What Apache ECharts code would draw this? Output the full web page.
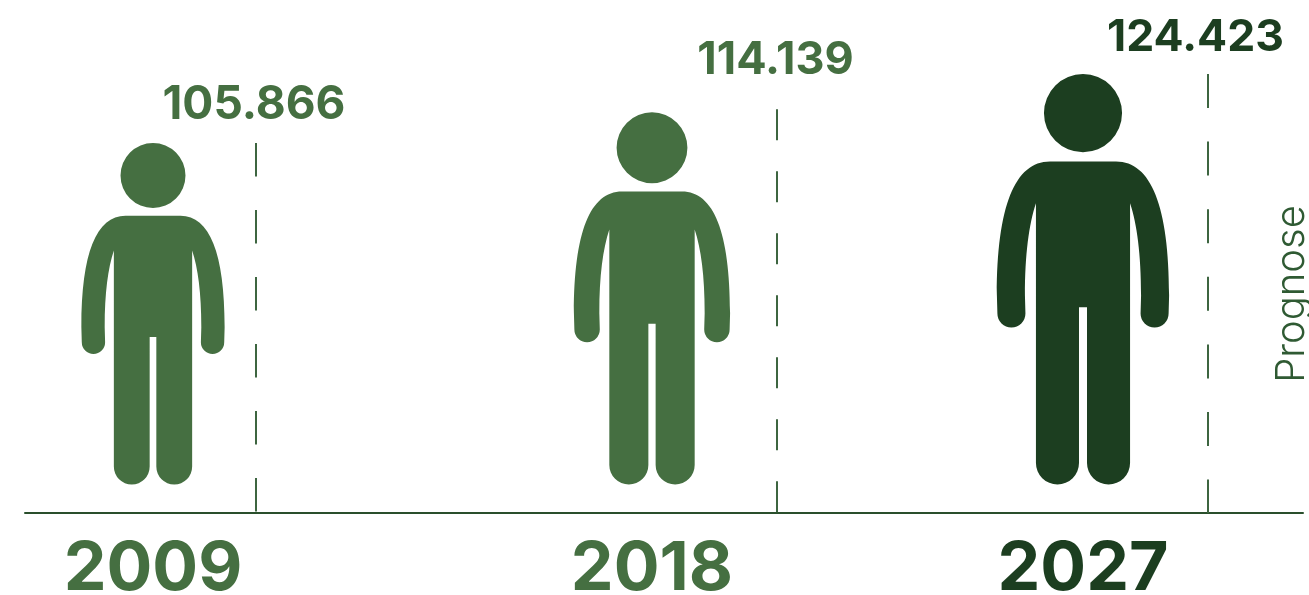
<!DOCTYPE html>
<html><head><meta charset="utf-8">
<style>html,body{margin:0;padding:0;background:#fff}#c{width:1309px;height:595px}</style>
<script src="https://cdn.jsdelivr.net/npm/echarts@6/dist/echarts.min.js"></script>
</head><body><div id="c"></div>
<script>
const years = ['2009', '2018', '2027'];
const residents = [105866, 114139, 124423];
const valueLabels = ['105.866', '114.139', '124.423'];
const sideNote = 'Prognose';

// layout (hidden x scale, y scale) and styles
const figureAt = [128, 627, 1058];
const guideAt = [231, 752, 1183];
const AXIS_MIN = 6350, AXIS_MAX = 144330, FOOT = 14015;
const light = '#456f41', dark = '#1c3e20';
const colors = [light, light, dark];
const guideDash = [[33.5, 33.5], [31, 31], [34, 33.6]];
const guideLift = [0, 3, 0];
const labelFont = [46, 45, 44.5];
const labelShift = [[-2, -38], [-1.5, -52], [-12.5, -36]];
const PERSON = 'M47 39A39 39 0 1 1 125 39A39 39 0 1 1 47 39Z' +
  'M53 87.3L119 87.3C154 87.3 172 132 172 221L171.5 239A14 14 0 0 1 143.5 239L144 221C144 180 140 150 133 129' +
  'L133 388A21.5 21.5 0 0 1 90 388L90 232.7L82 232.7L82 388A21.5 21.5 0 0 1 39 388L39 129' +
  'C32 150 28 180 28 221L28.5 239A14 14 0 0 1 0.5 239L0 221C0 132 18 87.3 53 87.3Z';
const ASPECT = 172 / 410;
const nearest = v => figureAt.reduce((b, x, i) => Math.abs(x - v) < Math.abs(figureAt[b] - v) ? i : b, 0);

const chart = echarts.init(document.getElementById('c'), null, {renderer: 'canvas'});
chart.setOption({
  animation: false,
  backgroundColor: '#fff',
  grid: {left: 25, right: 6, top: 0, height: 513, outerBoundsMode: 'none'},
  xAxis: {
    type: 'value', min: 0, max: 1278,
    axisLine: {show: true, onZero: false, lineStyle: {color: '#2a4f2c', width: 2}},
    axisTick: {show: false}, splitLine: {show: false},
    axisLabel: {
      show: true,
      customValues: figureAt,
      margin: 23,
      fontFamily: 'Inter', fontWeight: 700, fontSize: 68, lineHeight: 68,
      formatter: v => years[nearest(v)],
      color: v => colors[nearest(v)]
    }
  },
  yAxis: {type: 'value', min: AXIS_MIN, max: AXIS_MAX, show: false, splitLine: {show: false}},
  graphic: [{
    type: 'text', x: 1292, y: 294, rotation: Math.PI / 2,
    style: {text: sideNote, fontFamily: 'Inter', fontWeight: 300, fontSize: 40,
      fill: '#2f5a33', align: 'center', verticalAlign: 'middle'}
  }],
  series: [{
    type: 'custom',
    clip: false,
    encode: {x: 0, y: 1},
    data: residents.map((v, i) => [figureAt[i], v, i]),
    renderItem(params, api) {
      const i = api.value(2);
      const top = api.coord([api.value(0), api.value(1)]);
      const foot = api.coord([api.value(0), FOOT]);
      const g0 = api.coord([guideAt[i], api.value(1)]);
      const g1 = api.coord([guideAt[i], AXIS_MIN]);
      const h = foot[1] - top[1], w = h * ASPECT;
      return {
        type: 'group',
        children: [
          {type: 'path',
           shape: {pathData: PERSON, x: top[0] - w / 2, y: top[1], width: w, height: h, layout: 'cover'},
           style: {fill: colors[i]}},
          {type: 'line',
           shape: {x1: g0[0], y1: g0[1] - guideLift[i], x2: g1[0], y2: g1[1]},
           style: {stroke: '#3d6540', lineWidth: 2, lineDash: guideDash[i], fill: null}},
          {type: 'text', x: g0[0] + labelShift[i][0], y: g0[1] + labelShift[i][1],
           style: {text: valueLabels[i], fontFamily: 'Inter', fontWeight: 700, fontSize: labelFont[i],
             fill: colors[i], align: 'center', verticalAlign: 'middle'}}
        ]
      };
    }
  }]
});
</script></body></html>
